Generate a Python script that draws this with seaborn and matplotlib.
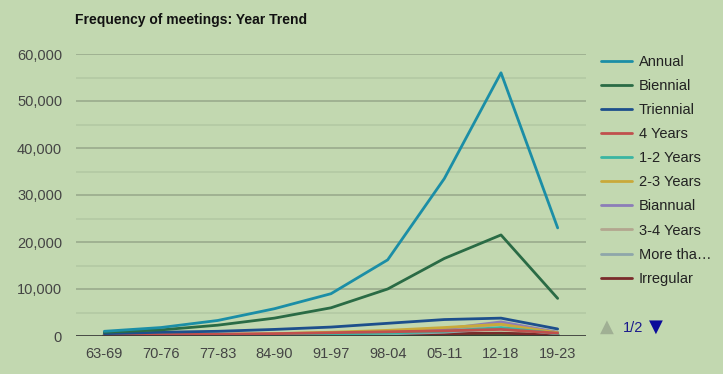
import matplotlib
matplotlib.use("Agg")
import matplotlib.pyplot as plt
import seaborn as sns
import pandas as pd
from matplotlib.lines import Line2D

periods = ["63-69", "70-76", "77-83", "84-90", "91-97", "98-04", "05-11", "12-18", "19-23"]
annual = [1000, 1800, 3300, 5800, 9000, 16200, 33500, 56000, 23000]
biennial = [800, 1300, 2300, 3800, 6000, 10000, 16500, 21500, 8000]
triennial = [500, 800, 1000, 1400, 1900, 2700, 3500, 3800, 1500]
four_years = [200, 300, 400, 500, 700, 900, 1100, 1400, 600]
one_two_years = [100, 150, 200, 300, 400, 600, 1000, 1800, 500]
two_three_years = [100, 200, 300, 500, 800, 1200, 1800, 2500, 700]
biannual = [100, 150, 250, 400, 600, 900, 1500, 3000, 800]
three_four_years = [50, 100, 150, 250, 400, 600, 1200, 2500, 700]
more_than = [50, 80, 120, 200, 300, 450, 800, 1600, 500]
irregular = [100, 150, 200, 250, 300, 400, 500, 600, 300]
other = [30, 40, 50, 60, 80, 100, 150, 200, 100]

series_names = ["Annual", "Biennial", "Triennial", "4 Years", "1-2 Years", "2-3 Years",
                "Biannual", "3-4 Years", "More tha\u2026", "Irregular"]
series_values = [annual, biennial, triennial, four_years, one_two_years, two_three_years,
                 biannual, three_four_years, more_than, irregular]
colors = ["#1b8ea6", "#2a6b45", "#1d4f8c", "#c0504d", "#3ab5a2", "#c9a93a",
          "#8c7db8", "#b3a68f", "#8ea6aa", "#7a2b2b"]

bg = "#c2d8b0"
sns.set_theme(style="white")
plt.rcParams["font.family"] = ["Liberation Sans", "DejaVu Sans"]

fig = plt.figure(figsize=(7.23, 3.74), dpi=100, facecolor=bg)
ax = fig.add_axes([76 / 723, 1 - 336 / 374, (586 - 76) / 723, (336 - 54) / 374])
ax.set_facecolor(bg)

rows = []
for name, vals in zip(series_names, series_values):
    for p, v in zip(periods, vals):
        rows.append({"period": p, "value": v, "series": name})
df = pd.DataFrame(rows)
df_other = pd.DataFrame({"period": periods, "value": other})

# grid lines
for y in range(5000, 60001, 5000):
    major = (y % 10000 == 0)
    ax.axhline(y, color="#9aab8c" if major else "#b3c9a3", lw=1.2, zorder=0)

sns.lineplot(data=df_other, x="period", y="value", color="#1e8a3a", lw=3,
             ax=ax, legend=False, sort=False, zorder=2)
order = list(range(len(series_names)))[::-1]
for i in order:
    sub = df[df["series"] == series_names[i]]
    sns.lineplot(data=sub, x="period", y="value", color=colors[i], lw=2,
                 ax=ax, legend=False, sort=False, zorder=3 + (len(series_names) - i))

ax.axhline(0, color="#333333", lw=1.2, zorder=10)
ax.set_xlim(-0.5, len(periods) - 0.5)
ax.set_ylim(0, 60000)
ax.set_yticks(range(0, 60001, 10000))
ax.set_yticklabels([f"{v:,}" for v in range(0, 60001, 10000)])
ax.tick_params(axis="both", length=0, labelsize=10.5, colors="#444444", pad=8)
ax.tick_params(axis="y", pad=10)
ax.set_xlabel("")
ax.set_ylabel("")
for s in ax.spines.values():
    s.set_visible(False)

fig.text(75 / 723, 1 - 20 / 374, "Frequency of meetings: Year Trend",
         fontsize=10, fontweight="bold", color="#111111", va="center", ha="left")

# legend
handles = [Line2D([0], [0], color=c, lw=2) for c in colors]
leg = fig.legend(handles, series_names, loc="upper left",
                 bbox_to_anchor=(588 / 723, 1 - 42 / 374), frameon=False,
                 fontsize=10.5, handlelength=2.1, handletextpad=0.5,
                 labelspacing=0.69, labelcolor="#222222")

# pager
fig.text(607 / 723, 1 - 327 / 374, "\u25B2", fontsize=13, color="#a0b094",
         ha="center", va="center", family="DejaVu Sans")
fig.text(633 / 723, 1 - 328 / 374, "1/2", fontsize=10.5, color="#1a1a8c", ha="center", va="center")
fig.text(656 / 723, 1 - 327 / 374, "\u25BC", fontsize=13, color="#0a0a9a",
         ha="center", va="center", family="DejaVu Sans")

fig.savefig("out.png", dpi=100, facecolor=bg)
